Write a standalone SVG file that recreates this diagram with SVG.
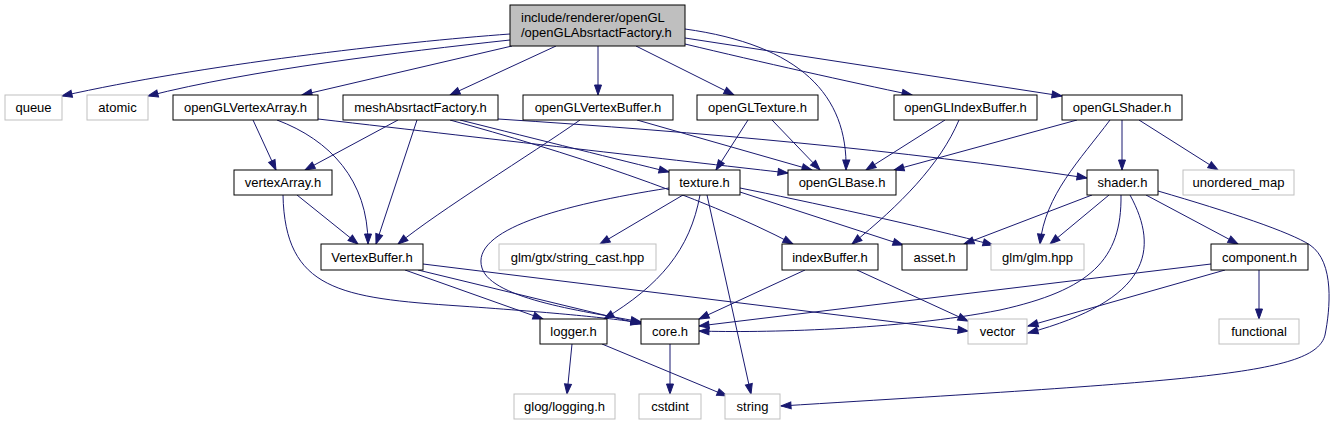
<svg xmlns="http://www.w3.org/2000/svg" width="1334" height="425" viewBox="0 0 1334 425">
<defs>
<marker id="a" markerUnits="userSpaceOnUse" markerWidth="12" markerHeight="9" refX="10" refY="4" orient="auto" overflow="visible">
<path d="M0,0.5 L10,4 L0,7.5 z" fill="#191970" stroke="#191970"/>
</marker>
<style>
.n rect{fill:#fff;stroke:#000;stroke-width:1}
.x rect{fill:#fff;stroke:#bfbfbf;stroke-width:1}
.r rect{fill:#bfbfbf;stroke:#000;stroke-width:1}
text{font-family:"Liberation Sans",Arial,Helvetica,sans-serif;font-size:13px;fill:#000;text-anchor:middle}
.r text{text-anchor:start}
#edges path{fill:none;stroke:#191970;stroke-width:1;marker-end:url(#a)}
</style>
</defs>
<rect width="1334" height="425" fill="#fff"/>
<g id="edges">
<path d="M510,34 C400,42 200,65 62,96"/>
<path d="M510,40 C400,52 250,70 148,96"/>
<path d="M512,46 L302,95"/>
<path d="M556,46 L450,95"/>
<path d="M598,46 L598,95"/>
<path d="M636,46 L734,95"/>
<path d="M685,29 C800,45 848,95 846,170"/>
<path d="M685,44 C760,62 850,82 912,95"/>
<path d="M685,38 L1062,96"/>
<path d="M253,120 L276,170"/>
<path d="M277,120 C330,140 368,180 368,244"/>
<path d="M318,119 C500,140 700,163 788,173"/>
<path d="M398,120 L305,170"/>
<path d="M417,120 L376,244"/>
<path d="M460,120 C540,140 620,160 669,172"/>
<path d="M450,120 C560,150 700,195 793,244"/>
<path d="M498,119 C700,132 900,150 1087,178"/>
<path d="M580,120 C530,155 440,210 398,244"/>
<path d="M637,120 L812,170"/>
<path d="M748,120 L716,170"/>
<path d="M772,120 L820,170"/>
<path d="M945,120 L866,170"/>
<path d="M959,120 C940,165 900,205 852,244"/>
<path d="M1077,120 L894,170"/>
<path d="M1110,120 C1080,160 1045,195 1040,244"/>
<path d="M1122,120 L1122,170"/>
<path d="M1139,120 L1218,170"/>
<path d="M297,195 L358,244"/>
<path d="M283,195 C285,290 340,298 460,306 C560,313 610,318 641,323"/>
<path d="M683,195 L600,244"/>
<path d="M669,188 C560,205 470,230 482,268 C492,300 590,312 641,322"/>
<path d="M700,195 C690,250 660,285 604,319"/>
<path d="M707,195 L751,394"/>
<path d="M740,192 L903,245"/>
<path d="M740,188 C800,200 930,228 993,245"/>
<path d="M1092,195 L964,244"/>
<path d="M1109,195 L1050,244"/>
<path d="M1146,195 L1238,244"/>
<path d="M1121,195 C1122,260 1090,290 1000,310 C900,330 760,333 699,331"/>
<path d="M1130,195 C1160,250 1150,300 1028,333"/>
<path d="M1158,191 C1230,212 1290,232 1310,245 C1335,262 1330,310 1325,335 C1315,375 1200,380 781,406"/>
<path d="M405,270 L543,319"/>
<path d="M418,270 L641,324"/>
<path d="M423,264 L968,331"/>
<path d="M805,270 L699,319"/>
<path d="M857,270 L968,321"/>
<path d="M1211,264 L699,326"/>
<path d="M1225,270 L1028,326"/>
<path d="M1259,270 L1259,319"/>
<path d="M572,344 L567,394"/>
<path d="M602,344 L727,396"/>
<path d="M670,344 L670,394"/>
</g>
<g id="root" class="r"><rect x="510" y="5" width="175" height="41"/><text x="521" y="22">include/renderer/openGL</text><text x="521" y="37">/openGLAbsrtactFactory.h</text></g>
<g id="queue" class="x"><rect x="5" y="95" width="57" height="25"/><text x="33.5" y="112">queue</text></g>
<g id="atomic" class="x"><rect x="87" y="95" width="61" height="25"/><text x="117.5" y="112">atomic</text></g>
<g id="openGLVertexArray" class="n"><rect x="173" y="95" width="145" height="25"/><text x="245.5" y="112">openGLVertexArray.h</text></g>
<g id="meshAbsrtactFactory" class="n"><rect x="343" y="95" width="155" height="25"/><text x="420.5" y="112">meshAbsrtactFactory.h</text></g>
<g id="openGLVertexBuffer" class="n"><rect x="523" y="95" width="150" height="25"/><text x="598" y="112">openGLVertexBuffer.h</text></g>
<g id="openGLTexture" class="n"><rect x="697" y="95" width="121" height="25"/><text x="757.5" y="112">openGLTexture.h</text></g>
<g id="openGLIndexBuffer" class="n"><rect x="894" y="95" width="143" height="25"/><text x="965.5" y="112">openGLIndexBuffer.h</text></g>
<g id="openGLShader" class="n"><rect x="1062" y="95" width="120" height="25"/><text x="1122" y="112">openGLShader.h</text></g>
<g id="vertexArray" class="n"><rect x="234" y="170" width="98" height="25"/><text x="283" y="187">vertexArray.h</text></g>
<g id="texture" class="n"><rect x="669" y="170" width="71" height="25"/><text x="704.5" y="187">texture.h</text></g>
<g id="openGLBase" class="n"><rect x="788" y="170" width="108" height="25"/><text x="842" y="187">openGLBase.h</text></g>
<g id="shader" class="n"><rect x="1087" y="170" width="71" height="25"/><text x="1122.5" y="187">shader.h</text></g>
<g id="unordered_map" class="x"><rect x="1183" y="170" width="111" height="25"/><text x="1238.5" y="187">unordered_map</text></g>
<g id="VertexBuffer" class="n"><rect x="321" y="244" width="102" height="26"/><text x="372" y="262">VertexBuffer.h</text></g>
<g id="string_cast" class="x"><rect x="499" y="244" width="157" height="26"/><text x="577.5" y="262">glm/gtx/string_cast.hpp</text></g>
<g id="indexBuffer" class="n"><rect x="782" y="244" width="96" height="26"/><text x="830" y="262">indexBuffer.h</text></g>
<g id="asset" class="n"><rect x="902" y="244" width="65" height="26"/><text x="934.5" y="262">asset.h</text></g>
<g id="glm" class="x"><rect x="991" y="244" width="93" height="26"/><text x="1037.5" y="262">glm/glm.hpp</text></g>
<g id="component" class="n"><rect x="1211" y="244" width="97" height="26"/><text x="1259.5" y="262">component.h</text></g>
<g id="logger" class="n"><rect x="540" y="319" width="67" height="25"/><text x="573.5" y="336">logger.h</text></g>
<g id="core" class="n"><rect x="641" y="319" width="58" height="25"/><text x="670" y="336">core.h</text></g>
<g id="vector" class="x"><rect x="968" y="319" width="59" height="25"/><text x="997.5" y="336">vector</text></g>
<g id="functional" class="x"><rect x="1219" y="319" width="80" height="25"/><text x="1259" y="336">functional</text></g>
<g id="glog" class="x"><rect x="514" y="394" width="101" height="25"/><text x="564.5" y="411">glog/logging.h</text></g>
<g id="cstdint" class="x"><rect x="639" y="394" width="62" height="25"/><text x="670" y="411">cstdint</text></g>
<g id="string" class="x"><rect x="725" y="394" width="55" height="25"/><text x="752.5" y="411">string</text></g>
</svg>
